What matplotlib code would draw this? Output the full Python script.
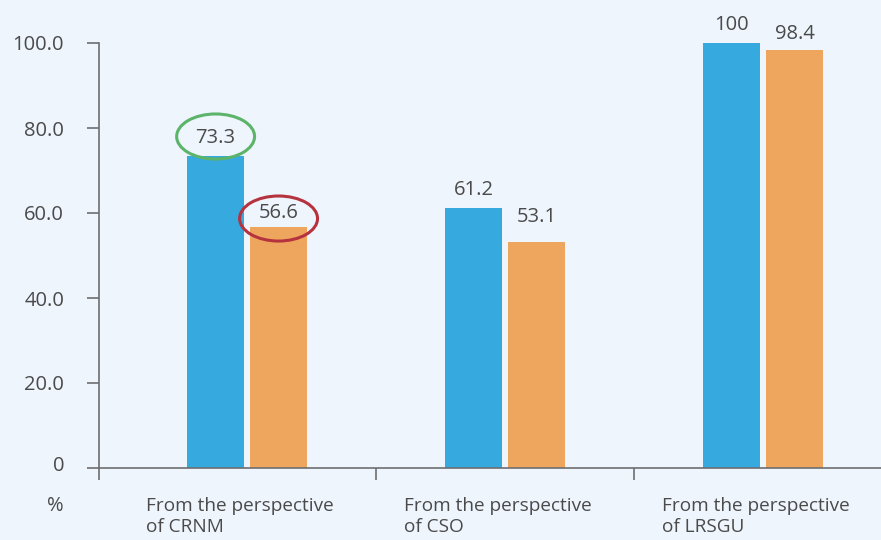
import matplotlib
matplotlib.use("Agg")
import matplotlib.pyplot as plt
from matplotlib.patches import Ellipse
from matplotlib.transforms import ScaledTranslation
import numpy as np

categories = ["From the perspective\nof CRNM", "From the perspective\nof CSO", "From the perspective\nof LRSGU"]
series_a = [73.3, 61.2, 100]
series_b = [56.6, 53.1, 98.4]
labels_a = ["73.3", "61.2", "100"]
labels_b = ["56.6", "53.1", "98.4"]
yticks = [0, 20, 40, 60, 80, 100]
ytick_labels = ["0", "20.0", "40.0", "60.0", "80.0", "100.0"]

BG = "#eef5fd"
BLUE = "#36a9df"
ORANGE = "#eea55e"
TEXT = "#4a4a4a"
AXIS = "#6d6e71"

plt.rcParams["font.family"] = ["Open Sans", "DejaVu Sans"]

fig = plt.figure(figsize=(8.81, 5.40), dpi=100, facecolor=BG)
ax = fig.add_axes([99/881, 72/540, 1 - 99/881, 425/540])
ax.set_facecolor(BG)

x = np.arange(len(categories))
w = 0.221
off = 0.122
ax.bar(x - off, series_a, width=w, color=BLUE, zorder=2)
ax.bar(x + off, series_b, width=w, color=ORANGE, zorder=2)

ax.set_ylim(0, 100)
ax.set_xlim(-0.574, 2.457)

NUM_FS = 14.5

# value labels (baseline offsets in points)
off_a = [10, 9.4, 9.4]
off_b = [6.5, 14.4, 8]
for i in range(len(x)):
    ax.annotate(labels_a[i], (x[i] - off, series_a[i]), xytext=(0, off_a[i]),
                textcoords="offset points", ha="center", va="baseline",
                fontsize=NUM_FS, color=TEXT, annotation_clip=False)
    ax.annotate(labels_b[i], (x[i] + off, series_b[i]), xytext=(0, off_b[i]),
                textcoords="offset points", ha="center", va="baseline",
                fontsize=NUM_FS, color=TEXT, annotation_clip=False)

# highlight ellipses
ax.add_patch(Ellipse((x[0] - off, series_a[0] + 4.7), 0.302, 10.6, fill=False,
                     edgecolor="#5cb46a", linewidth=2.2, zorder=3, clip_on=False))
ax.add_patch(Ellipse((x[0] + off, series_b[0] + 2.1), 0.302, 10.6, fill=False,
                     edgecolor="#b5333f", linewidth=2.2, zorder=3, clip_on=False))

# spines
for s in ["top", "right"]:
    ax.spines[s].set_visible(False)
for s in ["left", "bottom"]:
    ax.spines[s].set_color(AXIS)
    ax.spines[s].set_linewidth(1.2)

ax.set_yticks(yticks)
ax.set_yticklabels(ytick_labels)
ax.tick_params(axis="y", length=8.6, width=1.2, color=AXIS, labelcolor=TEXT,
               labelsize=NUM_FS, pad=16.5)
zero_lbl = ax.get_yticklabels()[0]
zero_lbl.set_transform(zero_lbl.get_transform() + ScaledTranslation(0, 3/72, fig.dpi_scale_trans))

ax.set_xticks([-0.574, 0.5, 1.5])
ax.set_xticklabels([])
ax.tick_params(axis="x", length=8.6, width=1.2, color=AXIS)

for i, c in enumerate(categories):
    ax.text(x[i] - 0.392, -6.9, c, ha="left", va="top", fontsize=13.7,
            color=TEXT, linespacing=1.2, transform=ax.transData, clip_on=False)

fig.text(55/881, 1 - 506/540, "%", ha="center", va="center", fontsize=NUM_FS, color=TEXT)

fig.savefig("out.png", dpi=100, facecolor=BG)
